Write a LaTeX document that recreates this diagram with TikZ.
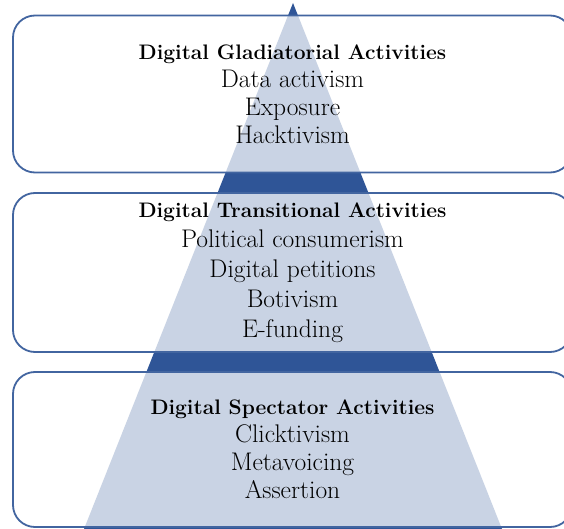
\documentclass[tikz,border=0pt]{standalone}
\usepackage{tikz}
\definecolor{PyramidBlue}{RGB}{47,85,151}
\definecolor{FrameBlue}{RGB}{66,101,160}
\tikzstyle{LevelBox}=[rectangle, rounded corners=22pt, draw=FrameBlue, line width=1.8pt, fill=white, fill opacity=0.74, text opacity=1, minimum width=559pt, align=center, font=\fontsize{25.5}{28}\selectfont]
\tikzstyle{WideLevelBox}=[LevelBox, font=\fontsize{25.5}{30}\selectfont]
\newcommand{\LevelTitle}[1]{\textbf{\fontsize{21}{28}\selectfont #1}}

\begin{document}
\begin{tikzpicture}[x=1pt, y=-1pt]
\clip (0,0) rectangle (564,529);
\fill[white] (0,0) rectangle (564,529);

% pyramid behind the boxes
\coordinate (Apex) at (293,3);
\coordinate (BaseRight) at (502,529);
\coordinate (BaseLeft) at (84,529);
\fill[PyramidBlue] (Apex) -- (BaseRight) -- (BaseLeft) -- cycle;

\node[LevelBox, minimum height=157pt](Gladiatorial) at (292.5,94) {\LevelTitle{Digital Gladiatorial Activities}\\ Data activism\\ Exposure\\ Hacktivism};
\node[WideLevelBox, minimum height=159pt](Transitional) at (292.5,272.5) {\LevelTitle{Digital Transitional Activities}\\ Political consumerism\\ Digital petitions\\ Botivism\\ E-funding};
\node[LevelBox, minimum height=155pt](Spectator) at (292.5,449.5) {\LevelTitle{Digital Spectator Activities}\\ Clicktivism\\ Metavoicing\\ Assertion};
\end{tikzpicture}
\end{document}
